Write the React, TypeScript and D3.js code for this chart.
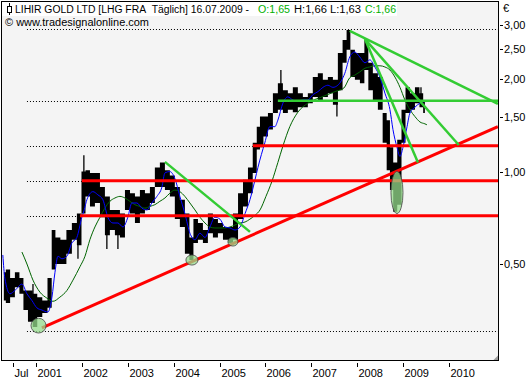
import React from "react";
import * as d3 from "d3";

// ---------- data ----------
const priceDates = [
  "2000-04-20","2000-05-22","2000-06-27","2000-08-06","2000-09-07","2000-10-09","2000-11-18","2000-12-24",
  "2001-01-29","2001-03-14","2001-04-22","2001-05-20","2001-06-20","2001-08-07","2001-09-24","2001-11-02","2001-12-13",
  "2002-01-14","2002-02-15","2002-03-26","2002-05-05","2002-06-14","2002-07-23","2002-09-01","2002-10-11","2002-11-20","2002-12-30",
  "2003-02-08","2003-03-19","2003-04-28","2003-06-07","2003-07-16","2003-08-25","2003-10-04","2003-11-13","2003-12-22",
  "2004-01-31","2004-03-11","2004-04-20","2004-05-22","2004-06-23","2004-08-02","2004-09-10","2004-10-20","2004-11-29",
  "2005-01-08","2005-02-17","2005-03-29","2005-05-08","2005-06-17","2005-07-26","2005-09-04","2005-10-10","2005-11-07","2005-11-30",
  "2006-01-01","2006-02-10","2006-03-21","2006-04-30","2006-06-09","2006-07-18","2006-08-27","2006-10-06","2006-11-15","2006-12-24",
  "2007-02-02","2007-03-14","2007-04-23","2007-06-02","2007-07-12","2007-08-20","2007-09-25","2007-10-23","2007-11-24",
  "2008-01-03","2008-02-12","2008-03-14","2008-04-15","2008-05-25","2008-07-04","2008-08-09","2008-09-06","2008-09-30","2008-10-28","2008-12-03",
  "2009-01-04","2009-02-05","2009-03-16","2009-04-25","2009-05-27","2009-06-23",
];
const priceHigh = [
  0.47, 0.48, 0.45, 0.47, 0.45, 0.41, 0.41, 0.40,
  0.39, 0.38, 0.45, 0.645, 0.61, 0.60, 0.645, 0.68, 0.73,
  1.0, 1.01, 0.99, 0.99, 0.89, 0.83, 0.75, 0.75, 0.73, 0.87,
  0.85, 0.83, 0.87, 0.85, 0.89, 1.03, 1.07, 1.01, 0.97,
  0.89, 0.81, 0.73, 0.61, 0.70, 0.68, 0.645, 0.73, 0.70,
  0.68, 0.66, 0.66, 0.73, 0.85, 0.94, 1.03, 1.24, 1.40, 1.51,
  1.51, 1.55, 1.80, 1.94, 1.84, 1.80, 1.88, 1.80, 1.75, 1.80,
  2.03, 2.09, 1.99, 2.03, 1.99, 2.43, 2.68, 2.89, 2.49,
  2.43, 2.43, 2.68, 2.26, 2.09, 2.03, 1.55, 1.47, 1.20, 1.07, 1.27,
  1.59, 1.88, 1.80, 1.88, 1.80, 1.71,
];
const priceLow = [
  0.38, 0.373, 0.39, 0.42, 0.40, 0.354, 0.324, 0.312,
  0.336, 0.346, 0.36, 0.48, 0.50, 0.50, 0.54, 0.60, 0.575,
  0.73, 0.83, 0.77, 0.79, 0.71, 0.62, 0.645, 0.62, 0.61, 0.75,
  0.73, 0.68, 0.73, 0.75, 0.79, 0.89, 0.89, 0.87, 0.83,
  0.70, 0.66, 0.54, 0.515, 0.585, 0.60, 0.585, 0.63, 0.61,
  0.63, 0.60, 0.585, 0.60, 0.70, 0.77, 0.85, 0.99, 1.18, 1.20,
  1.30, 1.37, 1.55, 1.59, 1.55, 1.59, 1.56, 1.62, 1.62, 1.67,
  1.75, 1.71, 1.75, 1.80, 1.65, 1.84, 2.26, 2.49, 2.03,
  1.99, 1.94, 2.14, 1.84, 1.71, 1.59, 1.24, 1.01, 0.87, 0.74, 0.78,
  1.24, 1.55, 1.59, 1.67, 1.62, 1.55,
];
// single-day spikes
const spikeDates = ["2000-12-08","2001-12-01","2002-01-17","2002-07-19","2002-10-15","2006-05-04","2007-07-24","2009-05-23"];
const spikeHigh = [0.43, 0.58, 1.13, 0.70, 0.70, 2.14, 1.85, 1.88];
const spikeLow = [0.36, 0.52, 0.85, 0.56, 0.56, 1.65, 1.51, 1.65];

// short moving average (blue)
const maShortDates = [
  "2000-04-12","2000-04-28","2000-06-08","2000-07-17","2000-09-11","2000-10-21","2000-11-30","2001-01-08","2001-02-17",
  "2001-04-06","2001-05-08","2001-06-01","2001-06-25","2001-07-26","2001-09-04","2001-10-13","2001-11-22","2002-01-01",
  "2002-01-20","2002-02-10","2002-03-30","2002-05-08","2002-06-17","2002-07-27","2002-09-05","2002-10-15","2002-11-24",
  "2003-01-02","2003-02-03","2003-03-15","2003-04-24","2003-06-03","2003-07-12","2003-08-21","2003-09-30","2003-10-24",
  "2003-12-02","2004-01-11","2004-02-20","2004-03-31","2004-05-10","2004-06-19","2004-07-29","2004-09-07","2004-10-16",
  "2004-11-25","2005-01-04","2005-02-13","2005-03-25","2005-05-04","2005-06-13","2005-07-23","2005-08-31","2005-10-10",
  "2005-11-02","2005-12-27","2006-02-05","2006-03-17","2006-04-10","2006-05-20","2006-06-28","2006-08-07","2006-09-16",
  "2006-10-26","2006-12-05","2007-01-14","2007-02-23","2007-04-04","2007-05-13","2007-06-22","2007-07-31","2007-09-25",
  "2007-11-03","2007-12-13","2008-01-22","2008-03-03","2008-04-11","2008-05-21","2008-06-30","2008-08-09","2008-09-18",
  "2008-10-12","2008-11-13","2008-12-07","2008-12-31","2009-02-01","2009-02-24","2009-04-05","2009-05-15","2009-06-23","2009-07-09",
];
const maShortValues = [
  0.535, 0.45, 0.40, 0.41, 0.43, 0.40, 0.38, 0.36, 0.354,
  0.349, 0.39, 0.47, 0.53, 0.52, 0.53, 0.585, 0.61, 0.71,
  0.75, 0.81, 0.86, 0.84, 0.81, 0.71, 0.68, 0.68, 0.66,
  0.71, 0.79, 0.79, 0.76, 0.75, 0.79, 0.83, 0.89, 0.99,
  1.00, 0.95, 0.83, 0.73, 0.63, 0.60, 0.63, 0.61, 0.66,
  0.71, 0.70, 0.66, 0.655, 0.645, 0.66, 0.73, 0.81, 0.94,
  1.03, 1.24, 1.40, 1.40, 1.47, 1.67, 1.75, 1.71, 1.69,
  1.71, 1.71, 1.78, 1.82, 1.88, 1.91, 1.88, 1.91, 2.09,
  2.36, 2.45, 2.36, 2.26, 2.31, 2.19, 2.03, 1.80, 1.59,
  1.37, 1.20, 1.12, 1.20, 1.40, 1.55, 1.62, 1.67, 1.69, 1.69,
];

// long moving average (dark green)
const maLongDates = [
  "2000-09-11","2000-10-21","2000-12-08","2001-02-01","2001-03-29","2001-05-16","2001-07-10","2001-09-04","2001-10-22",
  "2001-12-17","2002-01-26","2002-03-06","2002-04-15","2002-05-25","2002-07-03","2002-08-12","2002-09-21","2002-10-31",
  "2002-12-10","2003-01-18","2003-02-27","2003-04-08","2003-05-18","2003-06-26","2003-08-05","2003-09-14","2003-10-24",
  "2003-12-02","2004-01-11","2004-02-20","2004-03-31","2004-05-10","2004-06-19","2004-07-29","2004-09-07","2004-10-16",
  "2004-11-25","2005-01-04","2005-02-13","2005-03-25","2005-05-04","2005-06-13","2005-07-23","2005-08-31","2005-10-10",
  "2005-11-19","2006-01-05","2006-02-22","2006-04-10","2006-05-20","2006-07-14","2006-09-16","2006-12-05","2007-03-26",
  "2007-07-07","2007-09-17","2007-11-03","2007-12-13","2008-01-22","2008-03-03","2008-04-11","2008-05-21","2008-06-30",
  "2008-08-09","2008-09-18","2008-10-28","2008-12-07","2009-01-15","2009-02-24","2009-04-05","2009-05-15","2009-06-23","2009-07-09",
];
const maLongValues = [
  0.547, 0.50, 0.443, 0.405, 0.387, 0.378, 0.39, 0.41, 0.443,
  0.49, 0.53, 0.60, 0.66, 0.71, 0.76, 0.80, 0.82, 0.83,
  0.82, 0.80, 0.78, 0.77, 0.76, 0.77, 0.78, 0.80, 0.82,
  0.85, 0.87, 0.86, 0.83, 0.79, 0.75, 0.71, 0.68, 0.66,
  0.655, 0.655, 0.655, 0.66, 0.67, 0.68, 0.685, 0.70, 0.72,
  0.75, 0.83, 0.93, 1.07, 1.21, 1.40, 1.56, 1.67, 1.75,
  1.82, 1.87, 2.02, 2.06, 2.11, 2.17, 2.19, 2.21, 2.21,
  2.19, 2.14, 2.03, 1.88, 1.71, 1.59, 1.51, 1.45, 1.43, 1.42,
];

// trend lines: [startDate, startPrice, endDate, endPrice]
const redTrendLines: [string, number, string, number][] = [
  ["2001-02-17", 0.31, "2011-01-25", 1.40],
];
const greenTrendLines: [string, number, string, number][] = [
  ["2003-10-24", 1.075, "2005-08-31", 0.636],
  ["2007-11-03", 2.87, "2011-01-25", 1.66],
  ["2008-03-03", 2.70, "2010-03-20", 1.22],
  ["2008-03-03", 2.70, "2009-04-29", 1.07],
];
// horizontal levels: price, start date of solid line
const redLevels: [number, string][] = [
  [1.214, "2005-09-23"],
  [0.933, "2002-01-01"],
  [0.718, "2001-12-17"],
];
const greenLevels: [number, string][] = [[1.70, "2006-04-10"]];
const dottedStart = "2000-10-21";
const dottedFull = [2.91, 0.303];
// pattern ellipses: [startDate, endDate, lowPrice, highPrice]
const markers: [string, string, number, number][] = [
  ["2000-11-22", "2001-03-22", 0.298, 0.333],
  ["2004-04-08", "2004-07-13", 0.496, 0.535],
  ["2005-03-08", "2005-05-27", 0.572, 0.61],
  ["2008-09-26", "2008-12-31", 0.73, 1.0],
];

const yTicks = [0.5, 1.0, 1.5, 2.0, 2.5, 3.0];
const xTickDates = ["2000-07-01","2001-01-01","2002-01-01","2003-01-01","2004-01-01","2005-01-01","2006-01-01","2007-01-01","2008-01-01","2009-01-01","2010-01-01"];
const xTickLabels = ["Jul","2001","2002","2003","2004","2005","2006","2007","2008","2009","2010"];

// ---------- chart ----------
const W = 531, H = 380;
const PL = 1.5, PT = 1.5, PR = 498.5, PB = 360.5;
const parse = d3.timeParse("%Y-%m-%d");
const FONT = "'Liberation Sans', Arial, sans-serif";

export default function App() {
  const x = d3.scaleTime().domain([new Date(2001, 0, 1), new Date(2010, 0, 1)]).range([36, 449]);
  const y = d3.scaleLog().domain([0.5, 3]).range([264, 25]);
  const px = (s: string) => x(parse(s) as Date);

  const idx = d3.range(priceDates.length);
  const area = d3.area<number>()
    .x((i) => px(priceDates[i]))
    .y0((i) => y(priceLow[i]))
    .y1((i) => y(priceHigh[i]))
    .curve(d3.curveStep)(idx) || "";

  const lineOf = (ds: string[], vs: number[]) =>
    d3.line<number>().x((i) => px(ds[i])).y((i) => y(vs[i])).curve(d3.curveMonotoneX)(d3.range(ds.length)) || "";

  const fmt = (v: number) => v.toFixed(2).replace(".", ",");
  const dotStartX = px(dottedStart);

  return (
    <svg width={W} height={H} style={{ position: "absolute", left: 0, top: 0, background: "#ffffff" }}>
      <defs>
        <clipPath id="plot">
          <rect x={PL + 0.5} y={PT + 0.5} width={PR - PL - 1} height={PB - PT - 1} />
        </clipPath>
      </defs>
      <rect x={0} y={0} width={W} height={H} fill="#ffffff" />
      <rect x={PL} y={PT} width={PR - PL} height={PB - PT} fill="#f4f4f4" />

      <g clipPath="url(#plot)">
        {/* dotted support/resistance lines */}
        {dottedFull.map((p, i) => (
          <line key={"df" + i} x1={dotStartX} x2={PR} y1={Math.round(y(p)) + 0.5} y2={Math.round(y(p)) + 0.5}
            stroke="#000" strokeWidth={1} strokeDasharray="1,2" />
        ))}
        {[...redLevels, ...greenLevels].map(([p, s], i) => (
          <line key={"dl" + i} x1={dotStartX} x2={px(s)} y1={Math.round(y(p)) + 0.5} y2={Math.round(y(p)) + 0.5}
            stroke="#000" strokeWidth={1} strokeDasharray="1,2" />
        ))}

        {/* price bars */}
        <path d={area} fill="#000" />
        {spikeDates.map((s, i) => (
          <line key={"sp" + i} x1={px(s)} x2={px(s)} y1={y(spikeHigh[i])} y2={y(spikeLow[i])} stroke="#000" strokeWidth={1.3} />
        ))}

        {/* moving averages */}
        <path d={lineOf(maLongDates, maLongValues)} fill="none" stroke="#006400" strokeWidth={1} />
        <path d={lineOf(maShortDates, maShortValues)} fill="none" stroke="#0000ff" strokeWidth={1} />

        {/* levels */}
        {redLevels.map(([p, s], i) => (
          <line key={"rl" + i} x1={px(s)} x2={PR} y1={y(p)} y2={y(p)} stroke="#ff0000" strokeWidth={3} />
        ))}
        {greenLevels.map(([p, s], i) => (
          <line key={"gl" + i} x1={px(s)} x2={PR} y1={y(p)} y2={y(p)} stroke="#33cc33" strokeWidth={2.5} />
        ))}
        {redTrendLines.map(([d1, p1, d2, p2], i) => (
          <line key={"rt" + i} x1={px(d1)} y1={y(p1)} x2={px(d2)} y2={y(p2)} stroke="#ff0000" strokeWidth={3} />
        ))}
        {greenTrendLines.map(([d1, p1, d2, p2], i) => (
          <line key={"gt" + i} x1={px(d1)} y1={y(p1)} x2={px(d2)} y2={y(p2)} stroke="#33cc33" strokeWidth={2.5} />
        ))}

        {/* pattern markers */}
        {markers.map(([d1, d2, lo, hi], i) => {
          const x1 = px(d1), x2 = px(d2);
          const y1 = y(hi), y2 = y(lo);
          return (
            <ellipse key={"mk" + i} cx={(x1 + x2) / 2} cy={(y1 + y2) / 2} rx={(x2 - x1) / 2} ry={(y2 - y1) / 2}
              fill="rgb(150,220,140)" fillOpacity={0.75} stroke="#444" strokeWidth={0.8} />
          );
        })}

        {/* resize grip */}
        <path d={`M${PR - 5},${PB - 0.5} L${PR - 0.5},${PB - 5} L${PR - 0.5},${PB - 0.5} Z`} fill="#999" />
      </g>

      {/* header */}
      <rect x={2} y={2} width={395} height={14} fill="#ffffff" />
      <rect x={2} y={16} width={148} height={12} fill="#f4f4f4" />
      <line x1={9.5} x2={9.5} y1={3} y2={15} stroke="#000" />
      <rect x={7.5} y={6.5} width={4} height={6} fill="#fff" stroke="#000" />
      <text y={13} fontFamily={FONT} fontSize={10} fill="#000">
        <tspan x={15} textLength={234} lengthAdjust="spacingAndGlyphs">{"LIHIR GOLD LTD [LHG FRA\u00a0 Täglich] 16.07.2009 -"}</tspan>
        <tspan x={258} fill="#00b000" textLength={32} lengthAdjust="spacingAndGlyphs">O:1,65</tspan>
        <tspan x={294} textLength={67} lengthAdjust="spacingAndGlyphs">H:1,66 L:1,63</tspan>
        <tspan x={365} fill="#00b000" textLength={31} lengthAdjust="spacingAndGlyphs">C:1,66</tspan>
      </text>
      <text x={5} y={26} fontFamily={FONT} fontSize={10.5} fill="#000" textLength={144} lengthAdjust="spacingAndGlyphs">
        © www.tradesignalonline.com
      </text>

      {/* frame */}
      <rect x={PL} y={PT} width={PR - PL} height={PB - PT} fill="none" stroke="#000" strokeWidth={1} />

      {/* right axis */}
      <text x={503} y={12} fontFamily={FONT} fontSize={11} fill="#000">€</text>
      {yTicks.map((v) => (
        <g key={"yt" + v}>
          <line x1={500} x2={503} y1={Math.round(y(v)) + 0.5} y2={Math.round(y(v)) + 0.5} stroke="#000" />
          <text x={504} y={y(v) + 4} fontFamily={FONT} fontSize={11} fill="#000">{fmt(v)}</text>
        </g>
      ))}

      {/* bottom axis */}
      {xTickDates.map((s, i) => {
        const xx = Math.round(px(s)) + 0.5;
        return (
          <g key={"xt" + i}>
            <line x1={xx} x2={xx} y1={363} y2={367} stroke="#000" />
            <text x={xx + 1} y={377} fontFamily={FONT} fontSize={11} fill="#000">{xTickLabels[i]}</text>
          </g>
        );
      })}
    </svg>
  );
}
